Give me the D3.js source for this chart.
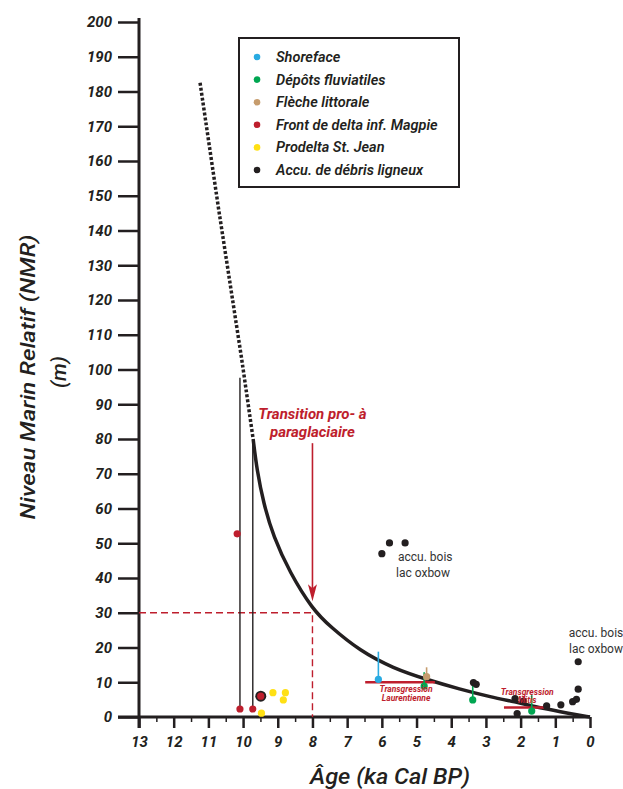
<!DOCTYPE html>
<html>
<head>
<meta charset="utf-8">
<script src="https://cdn.jsdelivr.net/npm/d3@7"></script>
<style>
body { margin: 0; background: #fff; }
text { font-family: Roboto, "Open Sans", sans-serif; }
</style>
</head>
<body>
<div id="chart"></div>
<script>
// Data
var xTicks = d3.range(0, 14),
	xMinor = d3.range(0.5, 13, 1),
	yTicks = d3.range(0, 201, 10);

// courbe NMR (age ka, m)
var curveSolid = [[9.71, 80], [9.6, 71], [9.41, 61.5], [9.13, 52], [8.65, 41.5], [8.0, 31], [7.49, 26],
	[6.63, 19], [5.67, 14], [4.71, 10.8], [3.75, 8], [2.88, 5.8], [2.0, 4.0], [1.44, 2.6], [0.58, 1.0], [0, 0]];
var curveDotted = [[11.24, 182.5], [10.71, 146.5], [10.04, 103], [9.71, 80]];

var shoreface = [{age: 6.1, nmr: 10.8, top: 18.8}];
var fluviatiles = [{age: 4.78, nmr: 8.9, top: 12.9}, {age: 3.38, nmr: 4.9, top: 9.5}, {age: 1.68, nmr: 1.7, top: 6.3}];
var fleche = [{age: 4.71, nmr: 11.6, top: 14.3}];
var frontDelta = [{age: 10.17, nmr: 52.7}, {age: 10.09, nmr: 2.3, top: 97.6}, {age: 9.72, nmr: 2.3, top: 80}, {age: 9.49, nmr: 6}];
var prodelta = [{age: 9.14, nmr: 7}, {age: 8.78, nmr: 7}, {age: 8.84, nmr: 4.9}, {age: 9.47, nmr: 1.1}];
var debris = [{age: 5.78, nmr: 50.1}, {age: 5.33, nmr: 50.1}, {age: 6.0, nmr: 47},
	{age: 3.36, nmr: 9.9}, {age: 3.28, nmr: 9.4}, {age: 2.16, nmr: 5.3}, {age: 2.1, nmr: 1.0},
	{age: 1.92, nmr: 4.6}, {age: 1.25, nmr: 3.2}, {age: 0.84, nmr: 3.5}, {age: 0.5, nmr: 4.4},
	{age: 0.39, nmr: 5.1}, {age: 0.34, nmr: 8}, {age: 0.34, nmr: 15.9}, {age: 9.49, nmr: 6, ring: true}];

var transgressions = [{from: 6.48, to: 4.47, nmr: 10, label: ["Transgression", "Laurentienne"]},
	{from: 2.48, to: 1.18, nmr: 2.7, label: ["Transgression", "Mitis"]}];

var legendNames = ["Shoreface", "Dépôts fluviatiles", "Flèche littorale", "Front de delta inf. Magpie", "Prodelta St. Jean", "Accu. de débris ligneux"],
	legendColors = ["#29abe2", "#00a651", "#c69c6d", "#be1e2d", "#ffe014", "#231f20"];

// Variables
var width = 623,
	height = 789,
	red = "#be1e2d",
	ink = "#231f20",
	svg = d3.select("#chart")
	.append("svg")
	.attr("width", width)
	.attr("height", height),
	x = d3.scaleLinear()
	.domain([13, 0])
	.range([139, 590]),
	y = d3.scaleLinear()
	.domain([0, 200])
	.range([717, 22]);

// Axes
var yAxis = d3.axisLeft(y).tickValues(yTicks).tickSize(21).tickPadding(6);
var gy = svg.append("g")
	.attr("transform", "translate(" + x(13) + ",0)")
	.call(yAxis);
gy.select(".domain").remove();
gy.selectAll(".tick line").attr("stroke", ink).attr("stroke-width", 2.5);
gy.selectAll(".tick text")
	.attr("fill", ink)
	.style("font-size", "15px")
	.style("font-weight", "700")
	.style("font-style", "italic");

var gx = svg.append("g")
	.attr("transform", "translate(0," + y(0) + ")")
	.call(d3.axisBottom(x).tickValues(xTicks).tickSize(11).tickPadding(8));
gx.select(".domain").remove();
gx.selectAll(".tick line").attr("stroke", ink).attr("stroke-width", 2.5);
gx.selectAll(".tick text")
	.attr("fill", ink)
	.style("font-size", "15px")
	.style("font-weight", "700")
	.style("font-style", "italic");

var gxm = svg.append("g")
	.attr("transform", "translate(0," + y(0) + ")")
	.call(d3.axisBottom(x).tickValues(xMinor).tickSize(5).tickFormat(""));
gxm.select(".domain").remove();
gxm.selectAll(".tick line").attr("stroke", ink).attr("stroke-width", 1.5);

// axis lines
svg.append("line")
	.attr("x1", x(13)).attr("x2", x(13))
	.attr("y1", y(200) - 4).attr("y2", y(0) + 11)
	.attr("stroke", ink).attr("stroke-width", 3);
svg.append("line")
	.attr("x1", x(13) - 21).attr("x2", x(0))
	.attr("y1", y(0)).attr("y2", y(0))
	.attr("stroke", ink).attr("stroke-width", 3);

// axis titles
svg.append("text")
	.attr("transform", "translate(35,377) rotate(-90)")
	.attr("text-anchor", "middle")
	.attr("textLength", 285)
	.attr("lengthAdjust", "spacingAndGlyphs")
	.attr("fill", ink)
	.style("font-size", "21px")
	.style("font-style", "italic")
	.style("font-weight", "500")
	.text("Niveau Marin Relatif (NMR)");
svg.append("text")
	.attr("transform", "translate(66,372) rotate(-90)")
	.attr("text-anchor", "middle")
	.attr("fill", ink)
	.style("font-size", "21px")
	.style("font-style", "italic")
	.style("font-weight", "500")
	.text("(m)");
svg.append("text")
	.attr("x", 390).attr("y", 784)
	.attr("text-anchor", "middle")
	.attr("textLength", 160)
	.attr("lengthAdjust", "spacingAndGlyphs")
	.attr("fill", ink)
	.style("font-size", "22px")
	.style("font-style", "italic")
	.style("font-weight", "500")
	.text("Âge (ka Cal BP)");

// dashed red guide at 8 ka / 30 m
svg.append("path")
	.attr("d", "M" + x(13) + "," + y(30) + "H" + x(8) + "V" + y(0))
	.attr("fill", "none")
	.attr("stroke", red)
	.attr("stroke-width", 1.4)
	.attr("stroke-dasharray", "7,4");

// vertical bars on delta points
svg.selectAll(".vbar")
	.data(frontDelta.filter(function(d) { return d.top; }))
	.enter()
	.append("line")
	.attr("class", "vbar")
	.attr("x1", function(d) { return x(d.age); })
	.attr("x2", function(d) { return x(d.age); })
	.attr("y1", function(d) { return y(d.nmr); })
	.attr("y2", function(d) { return y(d.top); })
	.attr("stroke", ink)
	.attr("stroke-width", 1.4);

// curve
var line = d3.line()
	.x(function(d) { return x(d[0]); })
	.y(function(d) { return y(d[1]); });
svg.append("path")
	.datum(curveSolid)
	.attr("d", line.curve(d3.curveBasis))
	.attr("fill", "none")
	.attr("stroke", ink)
	.attr("stroke-width", 3.5);
svg.append("path")
	.datum(curveDotted)
	.attr("d", d3.line().x(function(d) { return x(d[0]); }).y(function(d) { return y(d[1]); }))
	.attr("fill", "none")
	.attr("stroke", ink)
	.attr("stroke-width", 3.5)
	.attr("stroke-dasharray", "3,2");

// transgressions
svg.selectAll(".trans")
	.data(transgressions)
	.enter()
	.append("line")
	.attr("class", "trans")
	.attr("x1", function(d) { return x(d.from); })
	.attr("x2", function(d) { return x(d.to); })
	.attr("y1", function(d) { return y(d.nmr); })
	.attr("y2", function(d) { return y(d.nmr); })
	.attr("stroke", red)
	.attr("stroke-width", 2.5);

// error bars
function bars(data, color) {
	svg.append("g")
		.selectAll("line")
		.data(data.filter(function(d) { return d.top; }))
		.enter()
		.append("line")
		.attr("x1", function(d) { return x(d.age); })
		.attr("x2", function(d) { return x(d.age); })
		.attr("y1", function(d) { return y(d.nmr); })
		.attr("y2", function(d) { return y(d.top); })
		.attr("stroke", color)
		.attr("stroke-width", 1.6);
}
bars(shoreface, legendColors[0]);
bars(fleche, legendColors[2]);
bars(fluviatiles, legendColors[1]);

// points
function dots(data, color) {
	svg.append("g")
		.selectAll("circle")
		.data(data)
		.enter()
		.append("circle")
		.attr("cx", function(d) { return x(d.age); })
		.attr("cy", function(d) { return y(d.nmr); })
		.attr("r", function(d) { return d.ring ? 5.5 : 3.6; })
		.attr("fill", color);
}
dots(shoreface, legendColors[0]);
dots(fleche, legendColors[2]);
dots(fluviatiles, legendColors[1]);
dots(prodelta, legendColors[4]);
dots(debris, legendColors[5]);
dots(frontDelta, legendColors[3]);

// transgression labels
var tl = [{cx: 5.3, v: [7.2, 4.6]}, {cx: 1.81, v: [6.4, 3.9]}];
transgressions.forEach(function(t, i) {
	t.label.forEach(function(s, j) {
		svg.append("text")
			.attr("x", x(tl[i].cx))
			.attr("y", y(tl[i].v[j]))
			.attr("text-anchor", "middle")
			.attr("fill", red)
			.style("font-size", "8.5px")
			.style("font-weight", "700")
			.style("font-style", "italic")
			.text(s);
	});
});

// annotation transition
svg.append("line")
	.attr("x1", x(8)).attr("x2", x(8))
	.attr("y1", y(78.8)).attr("y2", y(37))
	.attr("stroke", red).attr("stroke-width", 1.6);
svg.append("path")
	.attr("d", "M" + x(8) + "," + y(33.3) + "l-4.5,-17 l4.5,4 l4.5,-4 z")
	.attr("fill", red);
svg.append("text")
	.attr("x", x(8)).attr("y", 419)
	.attr("text-anchor", "middle")
	.attr("fill", red)
	.style("font-size", "15px")
	.style("font-weight", "700")
	.style("font-style", "italic")
	.text("Transition pro- à");
svg.append("text")
	.attr("x", x(8)).attr("y", 437)
	.attr("text-anchor", "middle")
	.attr("fill", red)
	.style("font-size", "15px")
	.style("font-weight", "700")
	.style("font-style", "italic")
	.text("paraglaciaire");

// accu. bois labels
[[398, 561, "start"], [596, 637, "middle"]].forEach(function(p) {
	svg.append("text")
		.attr("x", p[0]).attr("y", p[1])
		.attr("text-anchor", p[2])
		.attr("fill", "#333")
		.style("font-size", "12px")
		.text("accu. bois");
	svg.append("text")
		.attr("x", p[2] == "start" ? p[0] - 2 : p[0]).attr("y", p[1] + 16)
		.attr("text-anchor", p[2])
		.attr("fill", "#333")
		.style("font-size", "12px")
		.text("lac oxbow");
});

// Legend
var key = svg.append("g").attr("transform", "translate(239,38)");
key.append("rect")
	.attr("width", 220)
	.attr("height", 149)
	.attr("fill", "#fff")
	.attr("stroke", ink)
	.attr("stroke-width", 2);
var item = key.selectAll(".item")
	.data(legendNames)
	.enter()
	.append("g")
	.attr("transform", function(d, i) { return "translate(0," + (19 + i * 22.6) + ")"; });
item.append("circle")
	.attr("cx", 18)
	.attr("r", 3.3)
	.attr("fill", function(d, i) { return legendColors[i]; });
item.append("text")
	.attr("x", 37)
	.attr("y", 5)
	.attr("fill", ink)
	.style("font-size", "14.5px")
	.style("font-weight", "600")
	.style("font-style", "italic")
	.text(function(d) { return d; });
</script>
</body>
</html>
